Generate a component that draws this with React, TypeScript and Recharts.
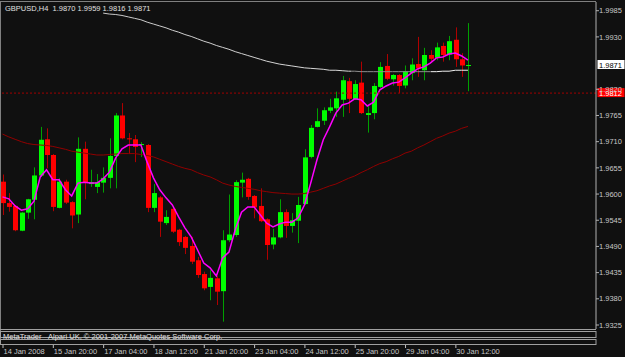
import { Bar, ComposedChart, Line, ReferenceLine, XAxis, YAxis } from "recharts";

const SYMBOL = "GBPUSD,H4";

const TIMES = [
  "14 Jan 12:00", "14 Jan 16:00", "14 Jan 20:00", "15 Jan 00:00", "15 Jan 04:00", "15 Jan 08:00", "15 Jan 12:00", "15 Jan 16:00",
  "15 Jan 20:00", "16 Jan 00:00", "16 Jan 04:00", "16 Jan 08:00", "16 Jan 12:00", "16 Jan 16:00", "16 Jan 20:00", "17 Jan 00:00",
  "17 Jan 04:00", "17 Jan 08:00", "17 Jan 12:00", "17 Jan 16:00", "17 Jan 20:00", "18 Jan 00:00", "18 Jan 04:00", "18 Jan 08:00",
  "18 Jan 12:00", "18 Jan 16:00", "18 Jan 20:00", "21 Jan 00:00", "21 Jan 04:00", "21 Jan 08:00", "21 Jan 12:00", "21 Jan 16:00",
  "21 Jan 20:00", "22 Jan 00:00", "22 Jan 04:00", "22 Jan 08:00", "22 Jan 12:00", "22 Jan 16:00", "22 Jan 20:00", "23 Jan 00:00",
  "23 Jan 04:00", "23 Jan 08:00", "23 Jan 12:00", "23 Jan 16:00", "23 Jan 20:00", "24 Jan 00:00", "24 Jan 04:00", "24 Jan 08:00",
  "24 Jan 12:00", "24 Jan 16:00", "24 Jan 20:00", "25 Jan 00:00", "25 Jan 04:00", "25 Jan 08:00", "25 Jan 12:00", "25 Jan 16:00",
  "25 Jan 20:00", "28 Jan 00:00", "28 Jan 04:00", "28 Jan 08:00", "28 Jan 12:00", "28 Jan 16:00", "28 Jan 20:00", "29 Jan 00:00",
  "29 Jan 04:00", "29 Jan 08:00", "29 Jan 12:00", "29 Jan 16:00", "29 Jan 20:00", "30 Jan 00:00", "30 Jan 04:00", "30 Jan 08:00",
  "30 Jan 12:00", "30 Jan 16:00", "30 Jan 20:00",
];

const OPEN = [
  1.9626, 1.9581, 1.9575, 1.9523, 1.9561, 1.9588, 1.9639, 1.9715, 1.9682, 1.9571,
  1.9626, 1.9583, 1.9557, 1.9695, 1.9621, 1.9615, 1.9624, 1.9634, 1.968, 1.9765,
  1.9717, 1.9715, 1.9703, 1.9703, 1.9571, 1.9593, 1.9539, 1.9569, 1.9525, 1.951,
  1.9491, 1.9461, 1.9432, 1.9405, 1.9423, 1.9396, 1.9503, 1.9514, 1.9624, 1.9632,
  1.9596, 1.9575, 1.9547, 1.9494, 1.9509, 1.9562, 1.9533, 1.9544, 1.9579, 1.9678,
  1.9741, 1.9754, 1.9775, 1.978, 1.9798, 1.9837, 1.9799, 1.9834, 1.9766, 1.977,
  1.9825, 1.9869, 1.9841, 1.985, 1.9828, 1.9854, 1.9873, 1.986, 1.9892, 1.9886,
  1.9911, 1.9893, 1.9924, 1.9883, 1.987,
];
const HIGH = [
  1.9641, 1.9602, 1.9577, 1.9562, 1.959, 1.9656, 1.9741, 1.9738, 1.9684, 1.9633,
  1.963, 1.9585, 1.9719, 1.971, 1.9651, 1.9642, 1.9656, 1.9717, 1.977, 1.9791,
  1.9728, 1.9724, 1.9709, 1.9705, 1.9621, 1.9596, 1.9566, 1.957, 1.9527, 1.9512,
  1.951, 1.9468, 1.9437, 1.944, 1.9428, 1.9524, 1.9599, 1.9629, 1.9645, 1.9634,
  1.9598, 1.9612, 1.9549, 1.9527, 1.9589, 1.9568, 1.956, 1.9594, 1.9694, 1.9745,
  1.978, 1.9782, 1.98, 1.9815, 1.9848, 1.9844, 1.9839, 1.9878, 1.9787, 1.9833,
  1.9877, 1.9894, 1.9852, 1.9852, 1.987, 1.9885, 1.993, 1.9907, 1.9902, 1.9918,
  1.9918, 1.9932, 1.995, 1.9896, 1.9959,
];
const LOW = [
  1.9556, 1.9563, 1.9522, 1.9522, 1.9548, 1.9547, 1.9636, 1.9654, 1.9564, 1.957,
  1.9579, 1.9528, 1.9539, 1.9589, 1.9615, 1.9602, 1.9603, 1.9612, 1.9612, 1.9715,
  1.9684, 1.9667, 1.9678, 1.9562, 1.9562, 1.951, 1.9535, 1.9518, 1.9491, 1.9474,
  1.9453, 1.9424, 1.9398, 1.9377, 1.9367, 1.9332, 1.9499, 1.951, 1.9593, 1.9588,
  1.9549, 1.9541, 1.9462, 1.9484, 1.9507, 1.9508, 1.9519, 1.9497, 1.9577, 1.9675,
  1.974, 1.9745, 1.977, 1.9762, 1.9762, 1.977, 1.9798, 1.9768, 1.9729, 1.9757,
  1.9823, 1.9839, 1.9828, 1.9812, 1.9822, 1.9839, 1.9846, 1.9839, 1.9879, 1.9881,
  1.9878, 1.9881, 1.9867, 1.9846, 1.9816,
];
const CLOSE = [
  1.9581, 1.9573, 1.9524, 1.9561, 1.9589, 1.9639, 1.9714, 1.9682, 1.9573, 1.9626,
  1.9582, 1.9555, 1.9695, 1.9624, 1.9625, 1.9625, 1.9634, 1.968, 1.9765, 1.9717,
  1.9715, 1.9699, 1.9705, 1.9571, 1.9602, 1.9542, 1.9552, 1.9521, 1.9499, 1.9487,
  1.9458, 1.943, 1.9402, 1.9424, 1.9395, 1.9503, 1.9515, 1.9625, 1.963, 1.9594,
  1.9572, 1.9543, 1.9493, 1.9509, 1.9562, 1.9533, 1.9545, 1.9577, 1.9677, 1.9739,
  1.9753, 1.9776, 1.9782, 1.9801, 1.9839, 1.98, 1.9831, 1.977, 1.977, 1.9827,
  1.9867, 1.9842, 1.985, 1.9827, 1.9857, 1.9872, 1.9864, 1.9892, 1.9884, 1.9908,
  1.9892, 1.9921, 1.9883, 1.987, 1.9871,
];

// magenta fast MA
const MA_FAST = [
  1.9594, 1.959, 1.9575, 1.9566, 1.9569, 1.9585, 1.9636, 1.9651, 1.963, 1.963,
  1.9609, 1.9596, 1.9623, 1.9625, 1.9623, 1.9623, 1.9632, 1.9646, 1.9676, 1.9695,
  1.9703, 1.9703, 1.9703, 1.9667, 1.9634, 1.9609, 1.9592, 1.9577, 1.9552, 1.9529,
  1.951, 1.9483, 1.9455, 1.9445, 1.9428, 1.9466, 1.9478, 1.9525, 1.9562, 1.9573,
  1.9573, 1.9556, 1.9539, 1.9531, 1.9537, 1.9541, 1.9541, 1.955, 1.9577, 1.9623,
  1.9672, 1.9714, 1.9741, 1.977, 1.9787, 1.9791, 1.98, 1.9798, 1.9785, 1.9793,
  1.9819, 1.9827, 1.9833, 1.9835, 1.9844, 1.9854, 1.9863, 1.9867, 1.9875, 1.9886,
  1.9888, 1.9894, 1.9896, 1.989, 1.9881,
];
// dark red slow MA
const MA_SLOW = [
  1.9726, 1.972, 1.9715, 1.971, 1.9706, 1.9704, 1.9703, 1.9702, 1.97, 1.9697,
  1.9694, 1.969, 1.9688, 1.9686, 1.9684, 1.9682, 1.9682, 1.9683, 1.9684, 1.9685,
  1.9685, 1.9685, 1.9683, 1.9681, 1.9678, 1.9673, 1.9668, 1.9663, 1.9658, 1.9654,
  1.9651, 1.9645, 1.964, 1.9636, 1.963, 1.9623, 1.9619, 1.9616, 1.9614, 1.9612,
  1.961, 1.9607, 1.9605, 1.9603, 1.9602, 1.9601, 1.96, 1.96, 1.9601, 1.9604,
  1.9607, 1.9612, 1.9617, 1.9621, 1.9627, 1.9633, 1.9638, 1.9645, 1.9651, 1.9658,
  1.9664, 1.9668, 1.9674, 1.9679, 1.9686, 1.969, 1.9697, 1.9703, 1.971, 1.9717,
  1.9722, 1.9728, 1.9732, 1.9738, 1.9742,
];
// grey long MA (not drawn before 17 Jan 04:00)
const MA_LONG = [
  null, null, null, null, null, null, null, null, null, null,
  null, null, null, null, null, null, 1.998, 1.9978, 1.9977, 1.9975,
  1.9972, 1.9969, 1.9966, 1.9961, 1.9957, 1.9953, 1.9949, 1.9944, 1.994, 1.9935,
  1.9931, 1.9926, 1.9921, 1.9917, 1.9912, 1.9908, 1.9904, 1.9899, 1.9895, 1.9891,
  1.9887, 1.9883, 1.9879, 1.9876, 1.9873, 1.9871, 1.9869, 1.9867, 1.9865, 1.9864,
  1.9863, 1.9862, 1.986, 1.986, 1.9859, 1.9858, 1.9858, 1.9857, 1.9857, 1.9857,
  1.9857, 1.9857, 1.9857, 1.9857, 1.9857, 1.9857, 1.9857, 1.9857, 1.9857, 1.9857,
  1.9858, 1.9858, 1.986, 1.986, 1.986,
];

const PRICE_TICKS = [1.9325, 1.938, 1.9435, 1.949, 1.9545, 1.96, 1.9655, 1.971, 1.9765, 1.982, 1.993, 1.9985];
const TIME_TICKS = [0, 8, 16, 24, 32, 40, 48, 56, 64, 72];
const TIME_LABELS = [
  "14 Jan 2008", "15 Jan 20:00", "17 Jan 04:00", "18 Jan 12:00", "21 Jan 20:00",
  "23 Jan 04:00", "24 Jan 12:00", "25 Jan 20:00", "29 Jan 04:00", "30 Jan 12:00",
];
const ALERT_PRICE = 1.9812;

const data = TIMES.map((t, i) => ({
  i,
  t,
  open: OPEN[i],
  high: HIGH[i],
  low: LOW[i],
  close: CLOSE[i],
  range: [LOW[i], HIGH[i]],
  fast: MA_FAST[i],
  slow: MA_SLOW[i],
  long: MA_LONG[i],
}));

const last = data[data.length - 1];
const BG = "#101010";
const FONT = "'Liberation Sans', Arial, sans-serif";
const TXT = "#c8c8c8";

function Candle(props: any) {
  const { x, y, width, height, payload } = props;
  if (x == null || y == null) return null;
  const top = Math.min(y, y + height);
  const bot = Math.max(y, y + height);
  const span = payload.high - payload.low || 1e-9;
  const py = (p: number) => top + ((payload.high - p) / span) * (bot - top);
  const cx = Math.round(x + width / 2);
  const up = payload.close >= payload.open;
  const bTop = py(Math.max(payload.open, payload.close));
  const bBot = py(Math.min(payload.open, payload.close));
  return (
    <g>
      <line x1={cx + 0.5} x2={cx + 0.5} y1={top} y2={bot} stroke={up ? "#00a000" : "#b00000"} strokeWidth={1} />
      <rect x={cx - 2} y={bTop} width={5} height={Math.max(1, bBot - bTop)} fill={up ? "#00ff00" : "#ff0000"} />
    </g>
  );
}

function TimeTick(props: any) {
  const { x, y, payload } = props;
  const k = TIME_TICKS.indexOf(payload.value);
  return (
    <g>
      <line x1={x + 0.5} x2={x + 0.5} y1={y + 16} y2={y + 19} stroke="#c0c0c0" />
      <text x={x + 1} y={y + 25} fill={TXT} fontSize={7.5} fontFamily={FONT}>
        {TIME_LABELS[k]}
      </text>
    </g>
  );
}

function PriceTag(props: any) {
  const { viewBox, text, bg, fg } = props;
  if (!viewBox) return null;
  const x0 = viewBox.x + viewBox.width + 1.5;
  return (
    <g>
      <rect x={x0} y={viewBox.y - 5} width={27} height={9} fill={bg} />
      <text x={x0 + 1.5} y={viewBox.y + 2.8} fill={fg} fontSize={7.5} fontFamily={FONT}>
        {text}
      </text>
    </g>
  );
}

export default function App() {
  return (
    <div style={{ position: "absolute", left: 0, top: 0, width: 625, height: 357, background: BG, overflow: "hidden" }}>
      <ComposedChart width={625} height={357} data={data} margin={{ top: 2, right: 0, bottom: 0, left: 1 }}>
        <defs>
          <linearGradient id="longMa" x1="0" y1="0" x2="1" y2="0">
            <stop offset="0" stopColor="#c8c8c8" />
            <stop offset="0.68" stopColor="#d8d8d8" />
            <stop offset="0.68" stopColor="#8c8c8c" />
            <stop offset="0.9" stopColor="#8c8c8c" />
            <stop offset="0.9" stopColor="#f0f0f0" />
            <stop offset="1" stopColor="#f0f0f0" />
          </linearGradient>
        </defs>
        <XAxis
          dataKey="i"
          type="number"
          domain={[-0.24, 94.36]}
          allowDataOverflow
          ticks={TIME_TICKS}
          interval={0}
          height={28}
          axisLine={false}
          tickLine={false}
          tickSize={0}
          tickMargin={0}
          tick={<TimeTick />}
        />
        <YAxis
          orientation="right"
          width={29}
          domain={[1.93166, 2.00033]}
          allowDataOverflow
          ticks={PRICE_TICKS}
          interval={0}
          tickFormatter={(v: number) => v.toFixed(4)}
          tick={{ fill: TXT, fontSize: 7.5, fontFamily: FONT }}
          tickSize={3}
          tickMargin={0}
          axisLine={{ stroke: "#b0b0b0" }}
          tickLine={{ stroke: "#b0b0b0" }}
        />
        <Bar dataKey="range" shape={<Candle />} barSize={5} isAnimationActive={false} />
        <Line dataKey="long" stroke="url(#longMa)" strokeWidth={1} dot={false} isAnimationActive={false} type="linear" />
        <Line dataKey="slow" stroke="#900000" strokeWidth={1} dot={false} isAnimationActive={false} type="linear" />
        <Line dataKey="fast" stroke="#ff00ff" strokeWidth={1.5} dot={false} isAnimationActive={false} type="linear" />
        <ReferenceLine
          y={ALERT_PRICE}
          stroke="#a00000"
          strokeDasharray="2 2"
          label={<PriceTag text={ALERT_PRICE.toFixed(4)} bg="#ff0000" fg="#ffffff" />}
        />
        <ReferenceLine
          y={last.close}
          stroke="none"
          label={<PriceTag text={last.close.toFixed(4)} bg="#ffffff" fg="#000000" />}
        />
      </ComposedChart>
      <svg width={625} height={357} style={{ position: "absolute", left: 0, top: 0, pointerEvents: "none" }}>
        <line x1={0} x2={596} y1={1.5} y2={1.5} stroke="#808080" />
        <line x1={0.5} x2={0.5} y1={1} y2={344.5} stroke="#808080" />
        <line x1={0} x2={596} y1={329.5} y2={329.5} stroke="#a0a0a0" />
        <rect x={0.5} y={331.5} width={595.5} height={6} fill="none" stroke="#a0a0a0" />
        <rect x={0.5} y={339.5} width={595.5} height={5} fill="none" stroke="#a0a0a0" />
        <text x={5} y={11} fill="#e0e0e0" fontSize={7.5} fontFamily={FONT} style={{ whiteSpace: "pre" }}>
          {`${SYMBOL}  ${last.open.toFixed(4)} ${last.high.toFixed(4)} ${last.low.toFixed(4)} ${last.close.toFixed(4)}`}
        </text>
        <text x={3} y={339} fill="#e0e0e0" fontSize={7.5} fontFamily={FONT}>MetaTrader</text>
        <text x={48} y={339} fill="#e0e0e0" fontSize={7.5} fontFamily={FONT}>Alpari UK, © 2001-2007 MetaQuotes Software Corp.</text>
      </svg>
    </div>
  );
}
